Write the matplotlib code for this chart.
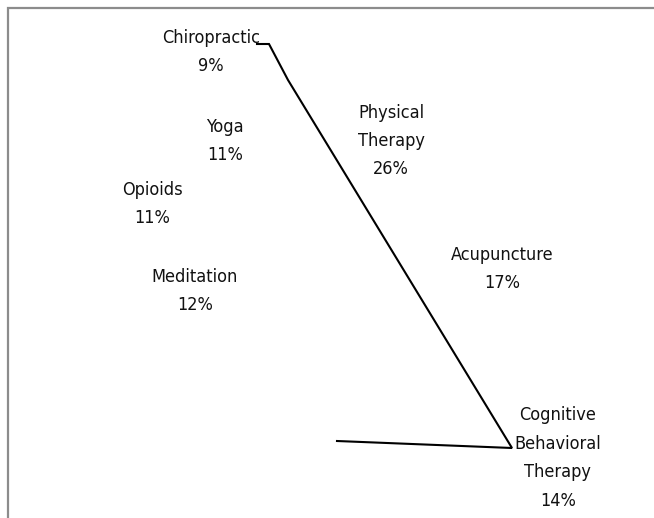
import matplotlib
matplotlib.use("Agg")
import matplotlib.pyplot as plt
from matplotlib import font_manager
import os

# ---- data ----
categories = ["Physical\nTherapy", "Acupuncture", "Cognitive\nBehavioral\nTherapy",
              "Meditation", "Opioids", "Yoga", "Chiropractic"]
values = [26, 17, 14, 12, 11, 11, 9]

# ---- layout (pixel positions of label block centres) ----
label_pos = [(391, 141), (502, 269), (558, 458), (195, 291), (152, 204), (225, 141), (211, 52)]

cond = [f for f in font_manager.fontManager.ttflist
        if f.name == "DejaVu Sans" and os.path.basename(f.fname) == "DejaVuSansCondensed.ttf"]

W, H = 654, 518
fig = plt.figure(figsize=(W / 100, H / 100), dpi=100)
fig.patch.set_facecolor("white")

pax = fig.add_axes([0.15, 0.05, 0.7, 0.85])
pax.pie(values, colors=["white"] * len(values), startangle=90, counterclock=False,
        wedgeprops=dict(linewidth=0))
pax.set_axis_off()

ax = fig.add_axes([0, 0, 1, 1])
ax.set_xlim(0, W)
ax.set_ylim(H, 0)
ax.set_axis_off()
ax.patch.set_alpha(0)

ax.plot([8, 8, W + 5], [H + 5, 8, 8], color="#8c8c8c", lw=1.6, solid_joinstyle="miter")
ax.plot([257, 269, 288, 512, 337], [44, 44, 80, 448, 441], color="black", lw=1.5,
        solid_joinstyle="miter")

if cond:
    fp = dict(fontproperties=font_manager.FontProperties(fname=cond[0].fname, size=13))
else:
    fp = dict(family="DejaVu Sans", fontsize=12)

for cat, val, (x, y) in zip(categories, values, label_pos):
    ax.text(x, y, f"{cat}\n{val}%", ha="center", va="center", multialignment="center",
            color="#111111", linespacing=1.75, **fp)

fig.savefig("out.png", dpi=100, facecolor="white")
